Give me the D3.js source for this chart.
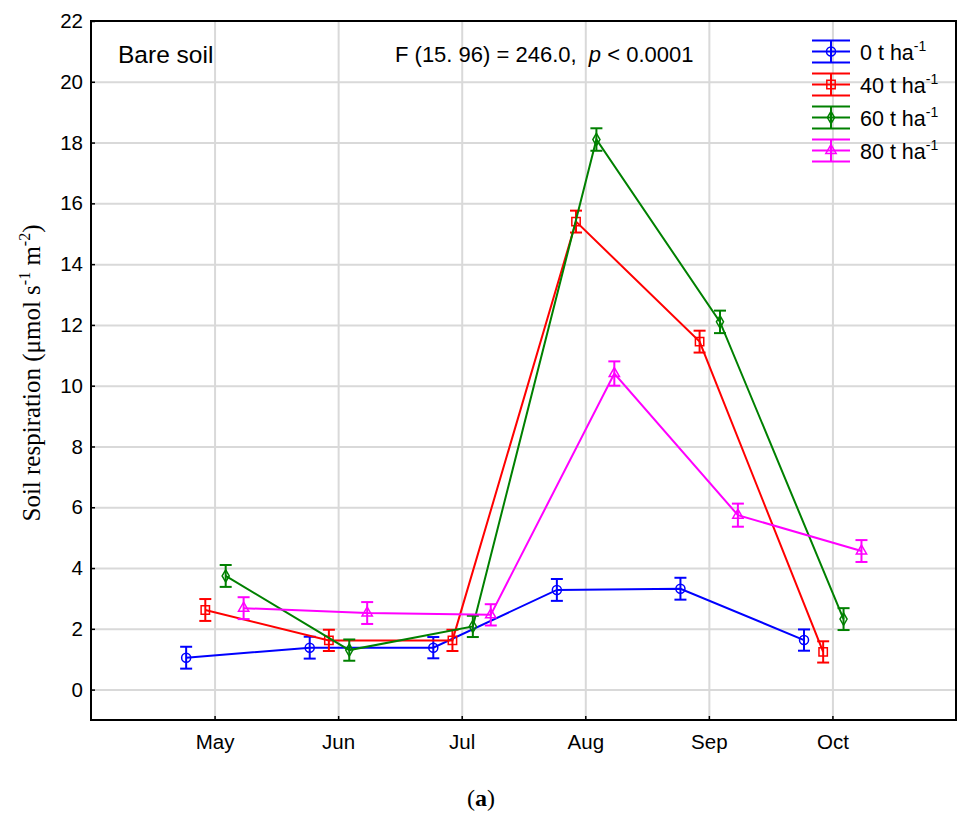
<!DOCTYPE html>
<html>
<head>
<meta charset="utf-8">
<script src="https://cdn.jsdelivr.net/npm/d3@7"></script>
<style>
  body { margin: 0; background: #fff; }
</style>
</head>
<body>
<svg width="958" height="815"></svg>
<script>
const months = ['May', 'Jun', 'Jul', 'Aug', 'Sep', 'Oct'];
const yTicks = [0, 2, 4, 6, 8, 10, 12, 14, 16, 18, 20, 22];
const rateLabels = ['0', '40', '60', '80'];

// mean soil respiration per month, one array for each manure rate
const resp0 = [1.05, 1.38, 1.38, 3.28, 3.32, 1.63];
const resp40 = [2.62, 1.62, 1.62, 15.4, 11.45, 1.24];
const resp60 = [3.74, 1.3, 2.08, 18.1, 12.1, 2.32];
const resp80 = [2.68, 2.52, 2.46, 10.4, 5.74, 4.56];

// half length of the error bars
const err0 = [0.36, 0.36, 0.35, 0.36, 0.36, 0.35];
const err40 = [0.36, 0.35, 0.35, 0.36, 0.36, 0.35];
const err60 = [0.36, 0.35, 0.35, 0.37, 0.37, 0.36];
const err80 = [0.36, 0.36, 0.35, 0.4, 0.38, 0.36];

const sans = '"Liberation Sans", Arial, sans-serif';
const serif = '"Liberation Serif", "Times New Roman", serif';

const svg = d3.select('svg').style('font-family', sans);

const plotL = 91, plotR = 956, plotT = 21, plotB = 720;

const x = d3.scaleLinear().domain([-1, 6]).range([plotL, plotR]);
const y = d3.scaleLinear().domain([-1, 22]).range([plotB, plotT]);

const series = [
  { vals: resp0, errs: err0, color: '#0000ff', shape: d3.symbolCircle, size: 64, shift: -0.23 },
  { vals: resp40, errs: err40, color: '#ff0000', shape: d3.symbolSquare, size: 70, shift: -0.075 },
  { vals: resp60, errs: err60, color: '#008000', shape: d3.symbolDiamond, size: 44, shift: 0.09 },
  { vals: resp80, errs: err80, color: '#ff00ff', shape: d3.symbolTriangle, size: 46, shift: 0.235 }
];

// grid lines
svg.append('g')
  .attr('transform', `translate(${plotL},0)`)
  .call(d3.axisLeft(y).tickValues(yTicks.slice(0, -1)).tickSize(-(plotR - plotL)).tickFormat(''))
  .call(g => g.select('.domain').remove())
  .selectAll('line').attr('stroke', '#d9d9d9').attr('stroke-width', 2);

svg.append('g')
  .attr('transform', `translate(0,${plotB})`)
  .call(d3.axisBottom(x).tickValues(d3.range(months.length)).tickSize(-(plotB - plotT)).tickFormat(''))
  .call(g => g.select('.domain').remove())
  .selectAll('line').attr('stroke', '#d9d9d9').attr('stroke-width', 2);

// axes
const yAxis = svg.append('g')
  .attr('transform', `translate(${plotL},0)`)
  .call(d3.axisLeft(y).tickValues(yTicks).tickSize(-4).tickPadding(8));

const xAxis = svg.append('g')
  .attr('transform', `translate(0,${plotB})`)
  .call(d3.axisBottom(x).tickValues(d3.range(months.length)).tickSize(-4).tickPadding(14)
    .tickFormat(i => months[i]));

[yAxis, xAxis].forEach(a => {
  a.attr('font-size', null).attr('font-family', null);
  a.selectAll('text').style('font-size', '20.5px').attr('fill', '#000');
  a.selectAll('line').attr('stroke', '#000').attr('stroke-width', 1.5);
  a.select('.domain').remove();
});

svg.append('rect')
  .attr('x', plotL).attr('y', plotT)
  .attr('width', plotR - plotL).attr('height', plotB - plotT)
  .attr('fill', 'none').attr('stroke', '#000').attr('stroke-width', 2);

// series: lines, error bars, markers
series.forEach(s => {
  const pts = s.vals.map((v, i) => ({ i, v, e: s.errs[i] }));
  const g = svg.append('g').attr('stroke', s.color).attr('fill', 'none');

  g.append('path')
    .datum(pts)
    .attr('stroke-width', 2)
    .attr('d', d3.line().x(d => x(d.i + s.shift)).y(d => y(d.v)));

  const bars = g.selectAll('.bar').data(pts).join('g')
    .attr('stroke-width', 2);
  bars.append('line')
    .attr('x1', d => x(d.i + s.shift)).attr('x2', d => x(d.i + s.shift))
    .attr('y1', d => y(d.v + d.e)).attr('y2', d => y(d.v - d.e));
  bars.append('line')
    .attr('x1', d => x(d.i + s.shift) - 6).attr('x2', d => x(d.i + s.shift) + 6)
    .attr('y1', d => y(d.v + d.e)).attr('y2', d => y(d.v + d.e));
  bars.append('line')
    .attr('x1', d => x(d.i + s.shift) - 6).attr('x2', d => x(d.i + s.shift) + 6)
    .attr('y1', d => y(d.v - d.e)).attr('y2', d => y(d.v - d.e));

  g.selectAll('.mark').data(pts).join('path')
    .attr('stroke-width', 1.5)
    .attr('transform', d => `translate(${x(d.i + s.shift)},${y(d.v)})`)
    .attr('d', d3.symbol().type(s.shape).size(s.size));
});

// legend
const legend = svg.append('g');
series.forEach((s, k) => {
  const cy = 51.5 + k * 33;
  const lg = legend.append('g').attr('stroke', s.color).attr('stroke-width', 2).attr('fill', 'none');
  [-11, 0, 11].forEach(dy => {
    lg.append('line').attr('x1', 812).attr('x2', 850).attr('y1', cy + dy).attr('y2', cy + dy);
  });
  lg.append('line').attr('x1', 831).attr('x2', 831).attr('y1', cy - 11).attr('y2', cy + 11);
  lg.append('path').attr('stroke-width', 1.5)
    .attr('transform', `translate(831,${cy})`)
    .attr('d', d3.symbol().type(s.shape).size(s.size));

  const t = legend.append('text')
    .attr('x', 860).attr('y', cy + 8)
    .style('font-size', '21.5px').attr('fill', '#000');
  t.append('tspan').text(`${rateLabels[k]} t ha`);
  t.append('tspan').style('font-size', '14px').attr('dy', -9).text('-1');
});

// annotations
svg.append('text')
  .attr('x', 118).attr('y', 63)
  .style('font-size', '24.5px')
  .text('Bare soil');

const ft = svg.append('text')
  .attr('x', 395).attr('y', 62)
  .style('font-size', '22px')
  .attr('xml:space', 'preserve');
ft.append('tspan').text('F (15. 96) = 246.0,  ');
ft.append('tspan').style('font-style', 'italic').text('p');
ft.append('tspan').text(' < 0.0001');

// y axis title
const yt = svg.append('text')
  .attr('transform', 'translate(40,373) rotate(-90)')
  .attr('text-anchor', 'middle')
  .style('font-family', serif)
  .style('font-size', '25px');
yt.append('tspan').text('Soil respiration (μmol s');
yt.append('tspan').style('font-size', '16px').attr('dy', -10).text('-1');
yt.append('tspan').attr('dy', 10).text(' m');
yt.append('tspan').style('font-size', '16px').attr('dy', -10).text('-2');
yt.append('tspan').attr('dy', 10).text(')');

// panel caption
const cap = svg.append('text')
  .attr('x', 481).attr('y', 806)
  .attr('text-anchor', 'middle')
  .style('font-family', serif)
  .style('font-size', '24px');
cap.append('tspan').text('(');
cap.append('tspan').style('font-weight', 'bold').text('a');
cap.append('tspan').text(')');
</script>
</body>
</html>
